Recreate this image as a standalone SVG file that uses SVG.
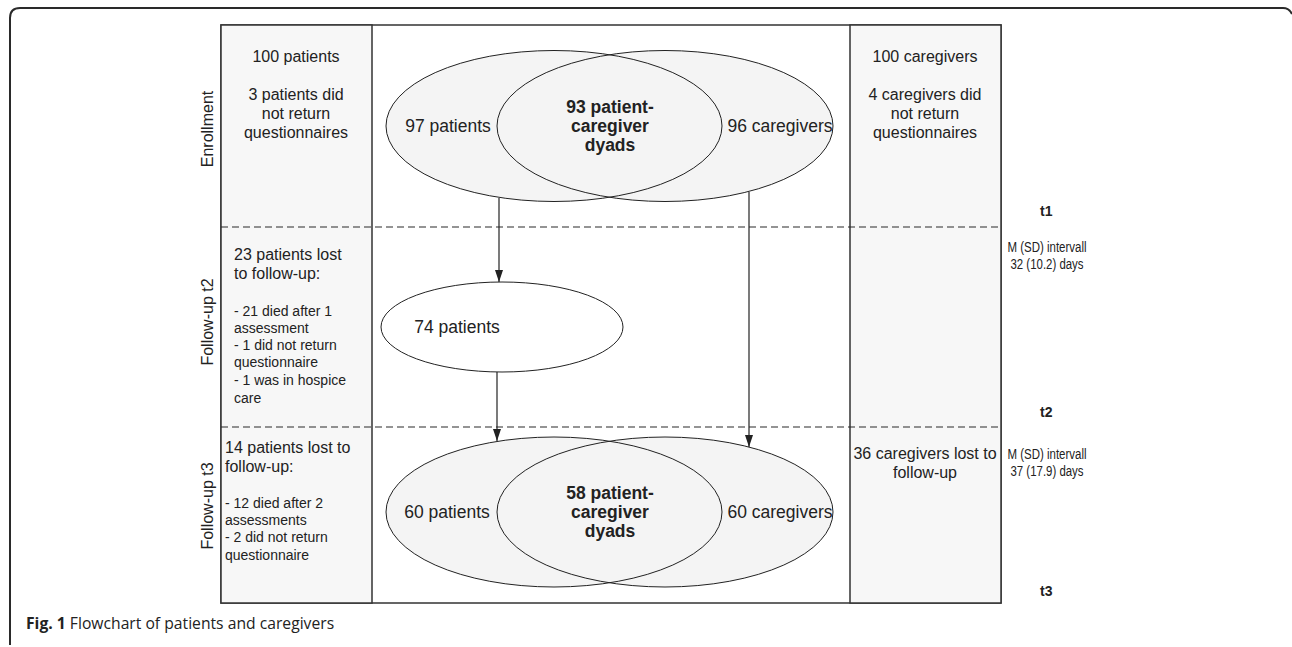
<svg xmlns="http://www.w3.org/2000/svg" width="1292" height="647" viewBox="0 0 1292 647">
<defs>
<marker id="ah" viewBox="0 0 12 8" refX="12" refY="4" markerWidth="12" markerHeight="8" markerUnits="userSpaceOnUse" orient="auto">
<path d="M0,0 L12,4 L0,8 z" fill="#222"/>
</marker>
</defs>
<style>
.t{font-family:"Liberation Sans",Arial,sans-serif;fill:#222}
.l{font-size:16px}
.e{font-size:17.5px}
.s{font-size:14px}
.b{font-weight:bold}
.n{font-size:14px}
.cap{font-family:"Open Sans","Liberation Sans",sans-serif;font-size:15.7px;fill:#222}
.box{fill:#f7f7f7;stroke:#333;stroke-width:1.5}
.dash{stroke:#2a2a2a;stroke-width:1.2;stroke-dasharray:7 4;fill:none}
.ef{fill:#f4f4f4;stroke:none}
.es{fill:none;stroke:#222;stroke-width:1}
.conn{stroke:#222;stroke-width:1.2;fill:none;marker-end:url(#ah)}
</style>
<rect width="1292" height="647" fill="#fff"/>
<path d="M10,645 V18 Q10,8 20,8 H1283 Q1289,8 1292,14" fill="none" stroke="#2a2a2a" stroke-width="2"/>

<g id="frame">
<rect x="221" y="25" width="780" height="578" fill="#fff" stroke="#333" stroke-width="1.5"/>
<rect class="box" x="221" y="25" width="151" height="578"/>
<rect class="box" x="850" y="25" width="151" height="578"/>
<line class="dash" x1="221" y1="227" x2="1001" y2="227"/>
<line class="dash" x1="221" y1="427" x2="1001" y2="427"/>
</g>

<g id="phase-labels" class="t l">
<text transform="translate(213,129) rotate(-90)" text-anchor="middle">Enrollment</text>
<text transform="translate(213,322) rotate(-90)" text-anchor="middle">Follow-up t2</text>
<text transform="translate(213,506) rotate(-90)" text-anchor="middle">Follow-up t3</text>
</g>

<g id="left-enrollment" class="t l" text-anchor="middle">
<text x="296" y="62">100 patients</text>
<text x="296" y="100">3 patients did</text>
<text x="296" y="119">not return</text>
<text x="296" y="138">questionnaires</text>
</g>

<g id="left-t2" class="t">
<text class="l" x="234" y="260">23 patients lost</text>
<text class="l" x="234" y="279">to follow-up:</text>
<text class="s" x="234" y="316">- 21 died after 1</text>
<text class="s" x="234" y="333">assessment</text>
<text class="s" x="234" y="350">- 1 did not return</text>
<text class="s" x="234" y="367">questionnaire</text>
<text class="s" x="234" y="385">- 1 was in hospice</text>
<text class="s" x="234" y="403">care</text>
</g>

<g id="left-t3" class="t">
<text class="l" x="225" y="453">14 patients lost to</text>
<text class="l" x="225" y="472">follow-up:</text>
<text class="s" x="225" y="508">- 12 died after 2</text>
<text class="s" x="225" y="525">assessments</text>
<text class="s" x="225" y="542">- 2 did not return</text>
<text class="s" x="225" y="560">questionnaire</text>
</g>

<g id="right-enrollment" class="t l" text-anchor="middle">
<text x="925" y="62">100 caregivers</text>
<text x="925" y="100">4 caregivers did</text>
<text x="925" y="119">not return</text>
<text x="925" y="138">questionnaires</text>
</g>

<g id="right-t3" class="t l" text-anchor="middle">
<text x="925" y="459">36 caregivers lost to</text>
<text x="925" y="478">follow-up</text>
</g>

<g id="venn-t1">
<ellipse class="ef" cx="554" cy="126" rx="168" ry="75.5"/>
<ellipse class="ef" cx="665" cy="126" rx="168" ry="75.5"/>
<ellipse class="es" cx="554" cy="126" rx="168" ry="75.5"/>
<ellipse class="es" cx="665" cy="126" rx="168" ry="75.5"/>
<text class="t e" x="448" y="132" text-anchor="middle">97 patients</text>
<text class="t e" x="780" y="132" text-anchor="middle">96 caregivers</text>
<text class="t e b" x="610" y="113" text-anchor="middle">93 patient-</text>
<text class="t e b" x="610" y="132" text-anchor="middle">caregiver</text>
<text class="t e b" x="610" y="151" text-anchor="middle">dyads</text>
</g>

<g id="node-74">
<ellipse fill="#fff" stroke="#222" stroke-width="1" cx="502" cy="327" rx="121" ry="45"/>
<text class="t e" x="457" y="333" text-anchor="middle">74 patients</text>
</g>

<g id="venn-t3">
<ellipse class="ef" cx="554" cy="512" rx="168" ry="75"/>
<ellipse class="ef" cx="665" cy="512" rx="168" ry="75"/>
<ellipse class="es" cx="554" cy="512" rx="168" ry="75"/>
<ellipse class="es" cx="665" cy="512" rx="168" ry="75"/>
<text class="t e" x="447" y="518" text-anchor="middle">60 patients</text>
<text class="t e" x="780" y="518" text-anchor="middle">60 caregivers</text>
<text class="t e b" x="610" y="499" text-anchor="middle">58 patient-</text>
<text class="t e b" x="610" y="518" text-anchor="middle">caregiver</text>
<text class="t e b" x="610" y="537" text-anchor="middle">dyads</text>
</g>

<g id="connectors">
<path class="conn" d="M499,198 V282"/>
<path class="conn" d="M749,192 V447"/>
<path class="conn" d="M497,372 V441"/>
</g>

<g id="time-labels" class="t">
<text class="n b" x="1040" y="216">t1</text>
<text class="n" x="1047" y="252" text-anchor="middle" textLength="79" lengthAdjust="spacingAndGlyphs">M (SD) intervall</text>
<text class="n" x="1047" y="269" text-anchor="middle" textLength="73" lengthAdjust="spacingAndGlyphs">32 (10.2) days</text>
<text class="n b" x="1040" y="417">t2</text>
<text class="n" x="1047" y="459" text-anchor="middle" textLength="79" lengthAdjust="spacingAndGlyphs">M (SD) intervall</text>
<text class="n" x="1047" y="476" text-anchor="middle" textLength="73" lengthAdjust="spacingAndGlyphs">37 (17.9) days</text>
<text class="n b" x="1040" y="596">t3</text>
</g>

<g id="caption">
<text class="cap" x="26" y="629"><tspan font-weight="bold">Fig. 1</tspan> Flowchart of patients and caregivers</text>
</g>
</svg>
